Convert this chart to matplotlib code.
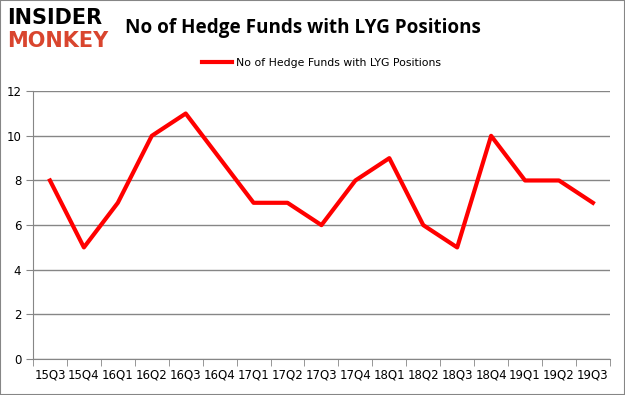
import numpy as np
import matplotlib.pyplot as plt

quarters = ['15Q3', '15Q4', '16Q1', '16Q2', '16Q3', '16Q4', '17Q1', '17Q2', '17Q3',
            '17Q4', '18Q1', '18Q2', '18Q3', '18Q4', '19Q1', '19Q2', '19Q3']
funds = [8, 5, 7, 10, 11, 9, 7, 7, 6, 8, 9, 6, 5, 10, 8, 8, 7]
yticks = [0, 2, 4, 6, 8, 10, 12]


def main():
    fig = plt.figure(figsize=(6.25, 3.95), dpi=100)
    ax = fig.add_axes([0.0528, 0.0911, 0.923, 0.678])

    x = np.arange(len(quarters))
    ax.plot(x, funds, c='#ff0000', lw=3, label='No of Hedge Funds with LYG Positions')

    ax.set_xlim(-0.5, len(quarters) - 0.5)
    ax.set_ylim(0, 12)
    ax.set_yticks(yticks)
    ax.set_xticks(x)
    ax.set_xticklabels(quarters)
    ax.set_xticks(np.arange(len(quarters) + 1) - 0.5, minor=True)
    ax.tick_params(axis='x', which='major', length=0, labelsize=8.5, pad=7)
    ax.tick_params(axis='x', which='minor', length=5, color='#868686')
    ax.tick_params(axis='y', length=5, color='#868686', labelsize=8.5)
    ax.grid(axis='y', color='#868686', lw=1)
    ax.set_axisbelow(True)
    for s in ['top', 'right']:
        ax.spines[s].set_visible(False)
    for s in ['left', 'bottom']:
        ax.spines[s].set_color('#868686')

    ax.legend(loc='lower center', bbox_to_anchor=(0.5, 1.05), frameon=False,
              fontsize=7.8, handlelength=2.8, handletextpad=0.4)

    fig.text(0.2, 0.928, 'No of Hedge Funds with LYG Positions', fontsize=13.6,
             fontweight='bold', family='Open Sans', va='center')
    fig.text(0.012, 0.955, 'INSIDER', fontsize=15, fontweight='heavy',
             color='black', va='center', family='DejaVu Sans')
    fig.text(0.012, 0.895, 'MONKEY', fontsize=15, fontweight='heavy',
             color='#d9452e', va='center', family='DejaVu Sans')

    fig.patches.append(plt.Rectangle((0, 0), 1, 1, transform=fig.transFigure,
                                     fill=False, ec='#868686', lw=1.5))
    fig.savefig('out.png')


if __name__ == "__main__":
    main()
